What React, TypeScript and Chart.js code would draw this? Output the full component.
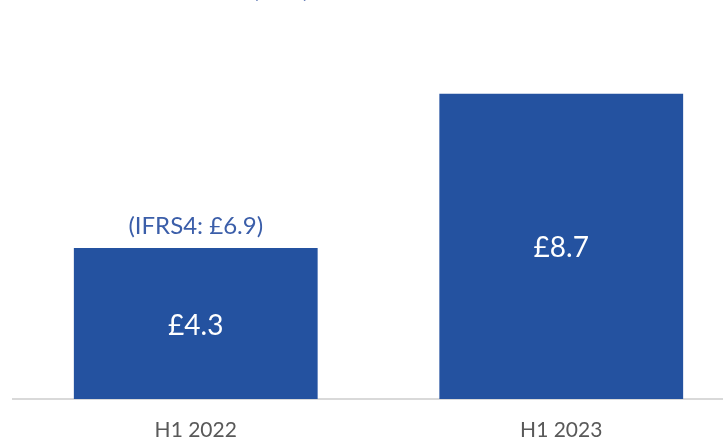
import React, { useEffect, useRef } from "react";
import { Chart, registerables } from "chart.js";

Chart.register(...registerables);

const categories: string[] = ["H1 2022", "H1 2023"];
const values: number[] = [4.3, 8.7];
const valueLabels: string[] = ["£4.3", "£8.7"];
const noteLabels: string[] = ["(IFRS4: £6.9)", ""];
const titleFragment = "(£bn)";

const BAR = "#2452a0";
const FONT = "Lato, 'Open Sans', sans-serif";

const labelPlugin = {
  id: "barLabels",
  afterDatasetsDraw(chart: any) {
    const ctx = chart.ctx;
    const meta = chart.getDatasetMeta(0);
    ctx.save();
    ctx.textAlign = "center";
    ctx.textBaseline = "middle";
    meta.data.forEach((bar: any, i: number) => {
      const { x, y, base } = bar.getProps(["x", "y", "base"], true);
      ctx.fillStyle = "#ffffff";
      ctx.font = `28px ${FONT}`;
      ctx.fillText(valueLabels[i], x, (y + base) / 2 + 2);
      if (noteLabels[i]) {
        ctx.fillStyle = "#3b5ea9";
        ctx.font = `24px ${FONT}`;
        ctx.fillText(noteLabels[i], x, y - 22);
      }
    });
    // cropped title fragment at the very top
    ctx.fillStyle = "#2e4f9e";
    ctx.font = `26px ${FONT}`;
    ctx.textAlign = "left";
    ctx.textBaseline = "alphabetic";
    ctx.fillText(titleFragment, 252, -3);
    ctx.restore();
  },
};

export default function App() {
  const ref = useRef<HTMLCanvasElement>(null);
  useEffect(() => {
    if (!ref.current) return;
    const chart = new Chart(ref.current, {
      type: "bar",
      data: {
        labels: categories,
        datasets: [
          {
            data: values,
            backgroundColor: BAR,
            borderWidth: 0,
            barPercentage: 0.667,
            categoryPercentage: 1,
          },
        ],
      },
      options: {
        responsive: false,
        animation: false,
        devicePixelRatio: 1,
        layout: { padding: { left: 13, right: 0, top: 0, bottom: 0 } },
        plugins: { legend: { display: false }, tooltip: { enabled: false }, title: { display: false } },
        scales: {
          x: {
            grid: { display: false, drawTicks: false },
            border: { display: true, color: "#d9d9d9", width: 2 },
            ticks: {
              color: "#595959",
              padding: 21,
              font: { family: FONT, size: 21, lineHeight: "20px" as any },
            },
          },
          y: {
            display: false,
            min: 0,
            max: 11.37,
          },
        },
      },
      plugins: [labelPlugin],
    });
    return () => chart.destroy();
  }, []);
  return (
    <div style={{ position: "fixed", left: 0, top: 0, width: 723, height: 440, overflow: "hidden", background: "#ffffff" }}>
      <canvas ref={ref} width={744} height={461} style={{ display: "block" }} />
    </div>
  );
}
